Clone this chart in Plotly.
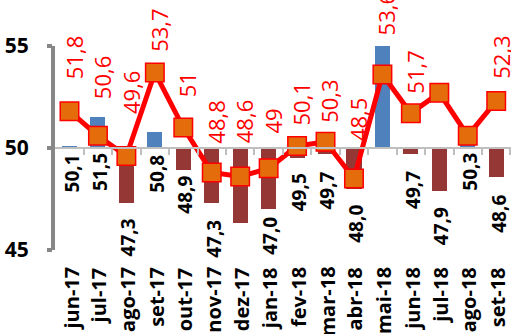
import plotly.graph_objects as go

# Monthly index: bars are the monthly reading (drawn from the 50 line),
# the line is the companion series with its own labels.
categories = ["jun-17", "jul-17", "ago-17", "set-17", "out-17", "nov-17", "dez-17",
              "jan-18", "fev-18", "mar-18", "abr-18", "mai-18", "jun-18", "jul-18",
              "ago-18", "set-18"]
bar_values = [50.1, 51.5, 47.3, 50.8, 48.9, 47.3, 46.3, 47.0, 49.5, 49.7, 48.0,
              55.0, 49.7, 47.9, 50.3, 48.6]
line_values = [51.8, 50.6, 49.6, 53.7, 51.0, 48.8, 48.6, 49.0, 50.1, 50.3, 48.5,
               53.6, 51.7, 52.7, 50.6, 52.3]
y_ticks = [45, 50, 55]
baseline = 50

# months whose labels are not printed
bar_label_hidden = {"dez-17", "mai-18"}
line_label_hidden = {"jul-18", "ago-18"}

# hand-placed label nudges (px): lift of the red labels above their marker,
# gap of the black labels below the bar end / the 50 line
line_label_lift = [30, 35, 40, 19, 28, 27, 31, 33, 18, 17, 36, 37, 18, 0, 0, 20]
bar_label_gap = [5, 3, 13, 5, 3, 15, 0, 6, 13, 16, 14, 0, 15, 14, 3, 16]

FONT = "Open Sans"
BLUE = "#4F81BD"
DARK_RED = "#953735"
RED = "#FF0000"
ORANGE = "#E46C0A"
AXIS_GREY = "#878787"
LIGHT_GREY = "#BFBFBF"

y_range = [45, 57.25]
x_idx = list(range(len(categories)))


def fmt_bar(v):
    return f"{v:.1f}".replace(".", ",")


def fmt_line(v):
    s = f"{v:.1f}".rstrip("0").rstrip(".")
    return s.replace(".", ",")


fig = go.Figure()

fig.add_trace(go.Bar(
    x=x_idx,
    y=[v - baseline for v in bar_values],
    base=baseline,
    width=0.53,
    marker=dict(color=[BLUE if v >= baseline else DARK_RED for v in bar_values],
                line=dict(width=0)),
    hoverinfo="skip",
))

fig.add_trace(go.Scatter(
    x=x_idx,
    y=line_values,
    mode="lines+markers",
    line=dict(color=RED, width=5),
    marker=dict(symbol="square", size=18.5, color=ORANGE,
                line=dict(color=RED, width=1.5)),
    hoverinfo="skip",
))

annotations = []
for i, (cat, v) in enumerate(zip(categories, line_values)):
    if cat in line_label_hidden:
        continue
    annotations.append(dict(
        x=i, y=v, xref="x", yref="y", text=fmt_line(v), showarrow=False,
        textangle=-90, xanchor="center", yanchor="bottom",
        xshift=4, yshift=line_label_lift[i],
        font=dict(family=FONT, size=22, color=RED),
    ))

for i, (cat, v) in enumerate(zip(categories, bar_values)):
    if cat in bar_label_hidden:
        continue
    annotations.append(dict(
        x=i, y=min(v, baseline), xref="x", yref="y", text=f"<b>{fmt_bar(v)}</b>",
        showarrow=False, textangle=-90, xanchor="center", yanchor="top",
        xshift=2, yshift=-bar_label_gap[i],
        font=dict(family=FONT, size=19, color="black"),
    ))

for i, cat in enumerate(categories):
    annotations.append(dict(
        x=i, y=y_range[0], xref="x", yref="y", text=f"<b>{cat}</b>",
        showarrow=False, textangle=-90, xanchor="center", yanchor="top",
        xshift=1, yshift=-15,
        font=dict(family=FONT, size=20, color="black"),
    ))

# vertical value axis line, spanning only the ticked interval
shapes = [dict(type="line", xref="paper", yref="y", x0=0, x1=0,
               y0=y_ticks[0], y1=y_ticks[-1],
               line=dict(color=AXIS_GREY, width=4), layer="above")]

fig.update_layout(
    width=511, height=334,
    margin=dict(l=53, r=0, t=0, b=84, autoexpand=False),
    paper_bgcolor="white", plot_bgcolor="white",
    showlegend=False,
    bargap=0,
    annotations=annotations,
    shapes=shapes,
    xaxis=dict(
        range=[-0.58, 15.52],
        anchor="free",
        position=(baseline - y_range[0]) / (y_range[1] - y_range[0]),
        tickmode="array",
        tickvals=[i + 0.5 for i in x_idx],
        showticklabels=False,
        ticks="outside", ticklen=6, tickwidth=2, tickcolor=LIGHT_GREY,
        showline=True, linecolor=LIGHT_GREY, linewidth=2,
        showgrid=False, zeroline=False,
    ),
    yaxis=dict(
        range=y_range,
        tickmode="array",
        tickvals=y_ticks,
        ticktext=[str(t) for t in y_ticks],
        ticks="outside", ticklen=5, tickwidth=4, tickcolor=AXIS_GREY,
        ticklabelstandoff=14,
        tickfont=dict(family=FONT, size=21, color="black", weight="bold"),
        showline=False, showgrid=False, zeroline=False,
    ),
)

fig.write_html("out.html")
